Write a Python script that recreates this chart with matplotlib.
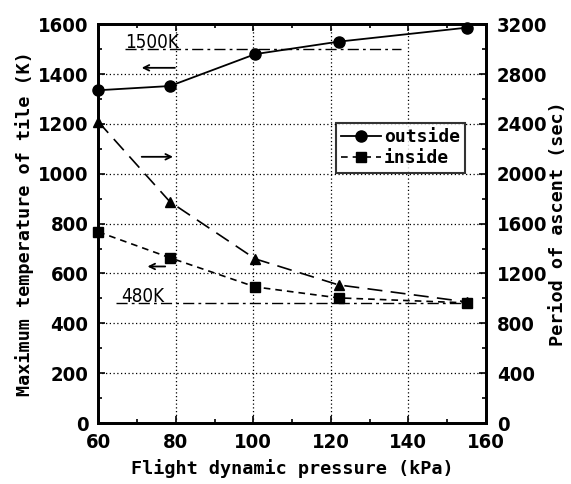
import numpy as np
import matplotlib.pyplot as plt
from matplotlib.ticker import MultipleLocator

# --- data ---
q_kpa = [60, 78.5, 100.5, 122, 155]
t_outside = [1335, 1352, 1480, 1530, 1586]   # K
t_inside = [767, 663, 546, 502, 482]         # K
ascent_sec = [2418, 1775, 1317, 1108, 972]  # sec (right axis)

ref_hi = 1500
ref_lo = 480

tick_font = {"family": ["DejaVu Sans"], "weight": "bold", "size": 14.5, "stretch": "condensed"}
label_font = {"family": ["DejaVu Sans Mono"], "weight": "bold", "size": 13.3}

fig = plt.figure(figsize=(5.71, 4.84), dpi=100)
ax = fig.add_axes([0.172, 0.126, 0.679, 0.824])
ax2 = ax.twinx()

ax.set_xlim(60, 160); ax.set_ylim(0, 1600)
ax2.set_ylim(0, 3200)

ax.plot(q_kpa, t_outside, "-", color="black", lw=1.3, marker="o", ms=8, label="outside", zorder=5, clip_on=False)
ax.plot(q_kpa, t_inside, color="black", lw=1.2, ls=(0, (4, 3)), marker="s", ms=7, label="inside", zorder=5, clip_on=False)
ax2.plot(q_kpa, ascent_sec, color="black", lw=1.2, ls=(0, (9, 5)), marker="^", ms=7, clip_on=False)

# reference temperatures
ax.plot([67, 138], [ref_hi, ref_hi], color="black", lw=1.0, ls=(0, (8, 3, 2, 3)))
ax.plot([64.5, 155], [ref_lo, ref_lo], color="black", lw=1.0, ls=(0, (8, 3, 2, 3)))
ax.text(67, ref_hi - 12, "1500K", fontsize=13.5, family="DejaVu Sans", stretch="condensed", va="bottom")
ax.text(66, ref_lo - 12, "480K", fontsize=13.5, family="DejaVu Sans", stretch="condensed", va="bottom")

# arrows pointing at the axis each curve belongs to
arr = dict(arrowstyle="->", color="black", lw=1.3)
ax.annotate("", xy=(70.5, 1425), xytext=(80.5, 1425), arrowprops=arr)
ax.annotate("", xy=(80, 1068), xytext=(70.5, 1068), arrowprops=arr)
ax.annotate("", xy=(72, 628), xytext=(78, 628), arrowprops=arr)

ax.xaxis.set_major_locator(MultipleLocator(20)); ax.xaxis.set_minor_locator(MultipleLocator(10))
ax.yaxis.set_major_locator(MultipleLocator(200)); ax.yaxis.set_minor_locator(MultipleLocator(100))
ax2.yaxis.set_major_locator(MultipleLocator(400)); ax2.yaxis.set_minor_locator(MultipleLocator(200))

ax.grid(True, which="major", color="black", ls=(0, (1, 2)), lw=0.9)
for a in (ax, ax2):
    a.tick_params(which="both", direction="in", top=True, width=1.2)
    a.tick_params(which="major", length=5, pad=7)
    a.tick_params(which="minor", length=3)
    for s in a.spines.values():
        s.set_linewidth(2)
ax.tick_params(right=False, which="both")
ax2.tick_params(left=False, which="both")
ax2.tick_params(axis="y", pad=8)

for lab in ax.get_xticklabels() + ax.get_yticklabels() + ax2.get_yticklabels():
    lab.set_fontproperties(tick_font)

ax.set_xlabel("Flight dynamic pressure (kPa)", fontdict=label_font, labelpad=5)
ax.set_ylabel("Maximum temperature of tile (K)", fontdict=label_font, labelpad=3)
ax2.set_ylabel("Period of ascent (sec)", fontdict=label_font, labelpad=1)

leg = ax.legend(loc="upper left", bbox_to_anchor=(0.59, 0.775), frameon=True, fancybox=False,
                edgecolor="black", handlelength=2.2, handletextpad=0.15, borderpad=0.3,
                labelspacing=0.15, prop={"family": "DejaVu Sans Mono", "weight": "bold", "size": 13})
leg.get_frame().set_linewidth(1.5)
leg.set_zorder(10)

fig.savefig("out.png", dpi=100)
